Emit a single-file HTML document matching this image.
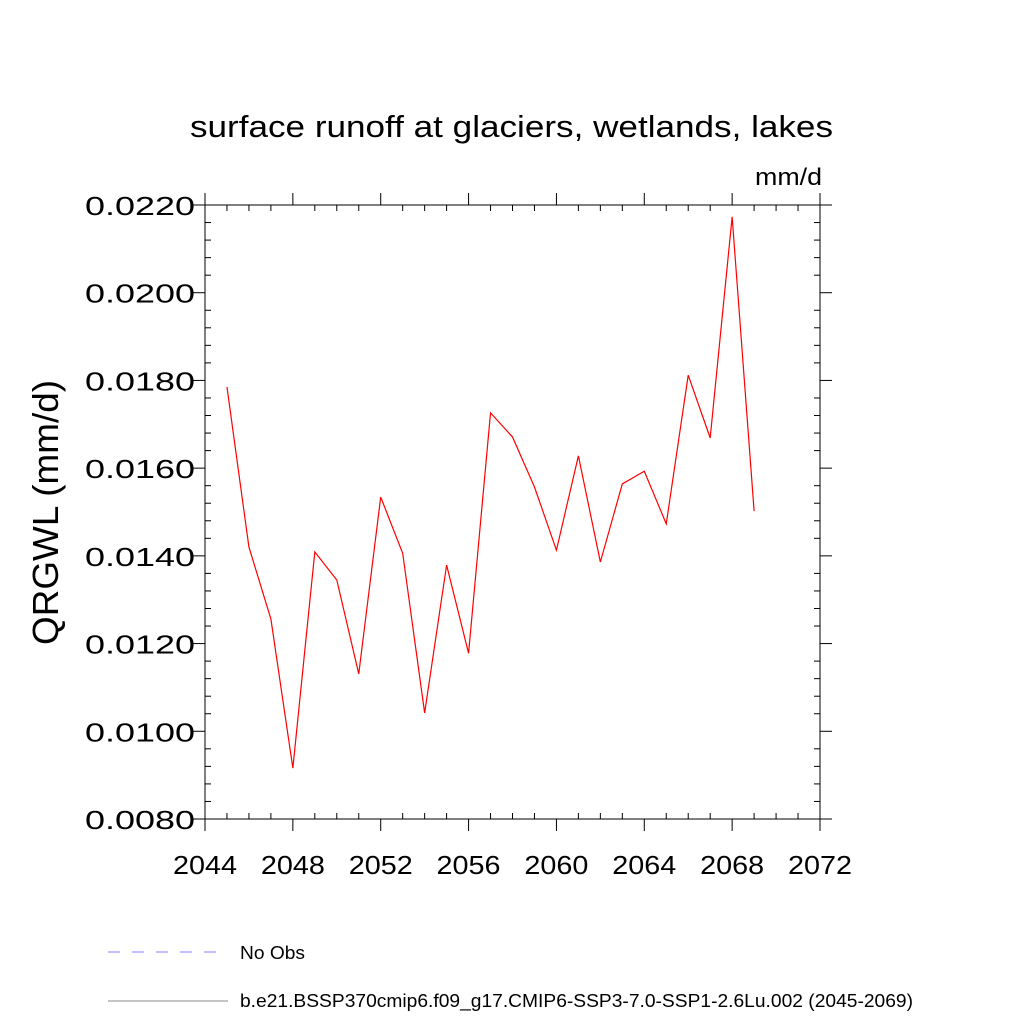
<!DOCTYPE html>
<html><head><meta charset="utf-8"><style>
html,body{margin:0;padding:0;background:#fff;}
svg{display:block;font-family:"Liberation Sans",sans-serif;}
</style></head><body>
<svg id="chart" width="1024" height="1024" viewBox="0 0 1024 1024">
<text x="190" y="137" font-size="31" textLength="643" lengthAdjust="spacingAndGlyphs">surface runoff at glaciers, wetlands, lakes</text>
<text x="755" y="185" font-size="24" textLength="67" lengthAdjust="spacingAndGlyphs">mm/d</text>
<text transform="translate(58,645) rotate(-90)" font-size="36" textLength="265" lengthAdjust="spacingAndGlyphs">QRGWL  (mm/d)</text>
<rect x="205" y="205" width="615" height="614" fill="none" stroke="#000" stroke-width="1"/>
<g id="axes"></g>
<g id="series"></g>
<g>
<line x1="108" y1="952" x2="218" y2="952" stroke="#8080ff" stroke-dasharray="12,12"/>
<text x="240" y="959" font-size="18" textLength="65" lengthAdjust="spacingAndGlyphs">No Obs</text>
<line x1="108" y1="1001" x2="228" y2="1001" stroke="#888"/>
<text x="240" y="1007" font-size="18" textLength="673" lengthAdjust="spacingAndGlyphs">b.e21.BSSP370cmip6.f09_g17.CMIP6-SSP3-7.0-SSP1-2.6Lu.002 (2045-2069)</text>
</g>
</svg>
<script>
const years=[2045,2046,2047,2048,2049,2050,2051,2052,2053,2054,2055,2056,2057,2058,2059,2060,2061,2062,2063,2064,2065,2066,2067,2068,2069];
const values=[0.01785,0.0142,0.01256,0.00916,0.01409,0.01345,0.01131,0.01534,0.01406,0.01042,0.01379,0.01178,0.01726,0.01671,0.01557,0.01413,0.01628,0.01386,0.01564,0.01593,0.01473,0.01812,0.01669,0.02173,0.01502];
const xTicks=[2044,2048,2052,2056,2060,2064,2068,2072];
const yTicks=[0.008,0.010,0.012,0.014,0.016,0.018,0.020,0.022];
const X0=205,X1=820,Y0=819,Y1=205;
function xs(v){return X0+(v-2044)/(2072-2044)*(X1-X0);}
function ys(v){return Y0-(v-0.008)/(0.022-0.008)*(Y0-Y1);}
const NS="http://www.w3.org/2000/svg";
const axes=document.getElementById('axes');
function ln(x1,y1,x2,y2,name){const l=document.createElementNS(NS,'line');l.setAttribute('x1',x1);l.setAttribute('y1',y1);l.setAttribute('x2',x2);l.setAttribute('y2',y2);l.setAttribute('stroke','#000');


axes.appendChild(l);}
function tx(x,y,s,anchor,name,len){const t=document.createElementNS(NS,'text');t.setAttribute('x',x);t.setAttribute('y',y);t.setAttribute('font-size','26');t.setAttribute('text-anchor',anchor);t.setAttribute('textLength',len);t.setAttribute('lengthAdjust','spacingAndGlyphs');t.textContent=s;


axes.appendChild(t);}
yTicks.forEach(v=>{const y=ys(v);ln(X0-12,y,X0,y,'y-tick');ln(X1,y,X1+12,y,'y-tick-right');tx(X0-10,y+10,v.toFixed(4),'end','y-tick-label',110);});
for(let i=0;i<yTicks.length-1;i++){for(let k=1;k<5;k++){const y=ys(yTicks[i]+k*0.0004);ln(X0,y,X0+6,y,'y-minor-tick');ln(X1-6,y,X1,y,'y-minor-tick-right');}}
xTicks.forEach(v=>{const x=xs(v);ln(x,Y0,x,Y0+12,'x-tick');ln(x,Y1-12,x,Y1,'x-tick-top');tx(x,874,String(v),'middle','x-tick-label',64);});
for(let yr=2044;yr<=2072;yr++){if((yr-2044)%4){const x=xs(yr);ln(x,Y0-6,x,Y0,'x-minor-tick');ln(x,Y1,x,Y1+6,'x-minor-tick-top');}}
const p=document.createElementNS(NS,'polyline');
p.setAttribute('points',years.map((y,i)=>xs(y)+','+ys(values[i])).join(' '));
p.setAttribute('fill','none');p.setAttribute('stroke','#ff0000');p.setAttribute('stroke-width','1.2');


document.getElementById('series').appendChild(p);
</script>
</body></html>
